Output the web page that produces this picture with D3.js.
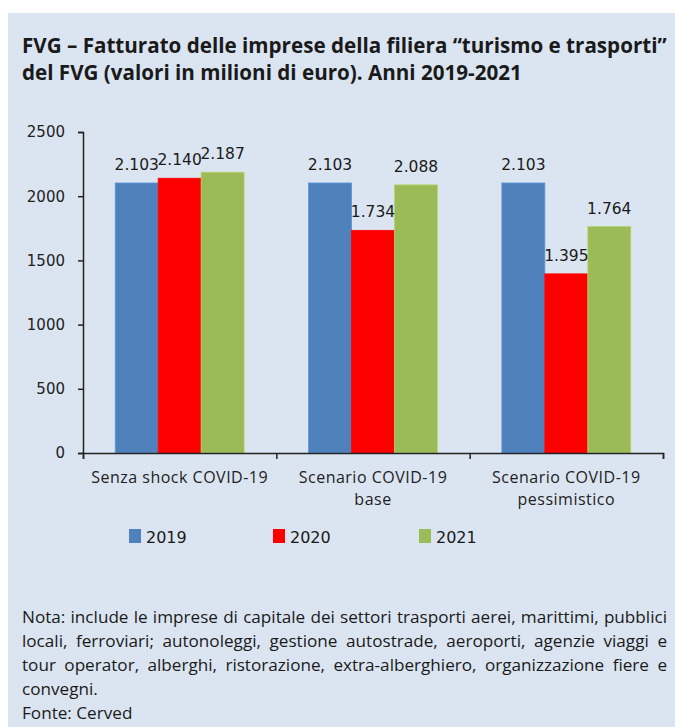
<!DOCTYPE html>
<html>
<head>
<meta charset="utf-8">
<script src="https://cdn.jsdelivr.net/npm/d3@7"></script>
<style>
body { margin: 0; background: #fff; }
</style>
</head>
<body>
<div class="container"></div>
<script>
var categories = ["Senza shock COVID-19", "Scenario COVID-19\nbase", "Scenario COVID-19\npessimistico"];
var years = ["2019", "2020", "2021"];
var values2019 = [2103, 2103, 2103];
var values2020 = [2140, 1734, 1395];
var values2021 = [2187, 2088, 1764];
var yTicks = [0, 500, 1000, 1500, 2000, 2500];
var colors = ["#4f81bd", "#ff0000", "#9bbb59"];
var titleLines = ["FVG \u2013 Fatturato delle imprese della filiera \u201cturismo e trasporti\u201d",
                  "del FVG (valori in milioni di euro). Anni 2019-2021"];
var noteLines = ["Nota: include le imprese di capitale dei settori trasporti aerei, marittimi, pubblici",
                 "locali, ferroviari; autonoleggi, gestione autostrade, aeroporti, agenzie viaggi e",
                 "tour operator, alberghi, ristorazione, extra-alberghiero, organizzazione fiere e",
                 "convegni.",
                 "Fonte: Cerved"];

var WIDTH = 675, HEIGHT = 727;
var series = [values2019, values2020, values2021];
var LEFT = 22, RIGHT = 667;

var appendGroupAndTranslateBy = function(x, y, svg) {
	return svg.append('g').attr('transform', 'translate(' + x + ',' + y + ')');
}

var itFormat = d3.formatLocale({decimal: ",", thousands: ".", grouping: [3], currency: ["", "\u20ac"]}).format(",d");

var svg = d3.select('.container').append('svg')
	.attr('width', WIDTH)
	.attr('height', HEIGHT);

svg.append('rect')
	.attr('x', 8).attr('y', 13)
	.attr('width', WIDTH - 8).attr('height', HEIGHT - 13)
	.attr('fill', '#dbe5f1');

// title, sized so the first line spans the box like the source
var titleG = svg.append('g')
	.style('font-family', '"Open Sans", sans-serif')
	.style('font-weight', 'bold')
	.style('font-size', '19px')
	.attr('fill', '#1a1a1a');
var titleText = titleG.selectAll('text').data(titleLines)
	.enter().append('text')
	.attr('x', LEFT)
	.attr('y', function(d, i) { return 53 + i * 27; })
	.text(function(d) { return d; });
var tw = titleText.nodes()[0].getComputedTextLength();
titleG.style('font-size', (19 * (RIGHT - LEFT) / tw) + 'px');

var x0 = d3.scaleBand()
	.domain(categories)
	.range([83, 663])
	.paddingInner(0)
	.paddingOuter(0);

var x1 = d3.scaleBand()
	.domain(years)
	.range([0, x0.bandwidth()])
	.paddingOuter(0.75);

var xEdges = d3.scaleLinear()
	.domain([0, categories.length])
	.range([83, 663]);

var yScale = d3.scaleLinear()
	.domain([0, 2500])
	.range([453, 132]);

var yAxis = d3.axisLeft(yScale).tickValues(yTicks).tickSize(5).tickPadding(13).tickFormat(d3.format('d'));
var xAxis = d3.axisBottom(xEdges).tickValues(d3.range(categories.length + 1)).tickSize(6).tickFormat('');

var yG = appendGroupAndTranslateBy(83, 0, svg).call(yAxis);
yG.selectAll('text')
	.style('font-family', '"DejaVu Sans", sans-serif')
	.style('font-size', '15px')
	.attr('fill', '#222');

// bars
var groups = svg.append('g').selectAll('g').data(categories)
	.enter().append('g')
	.attr('transform', function(d) { return 'translate(' + x0(d) + ',0)'; });

groups.selectAll('rect')
	.data(function(d, ci) { return years.map(function(y, si) { return {year: y, si: si, v: series[si][ci]}; }); })
	.enter().append('rect')
	.attr('x', function(d) { return x1(d.year); })
	.attr('y', function(d) { return yScale(d.v); })
	.attr('width', x1.bandwidth())
	.attr('height', function(d) { return yScale(0) - yScale(d.v); })
	.attr('fill', function(d) { return colors[d.si]; })
	.attr('stroke', function(d) { return d3.color(colors[d.si]).brighter(0.4); })
	.attr('stroke-width', 0.8);

groups.selectAll('text.val')
	.data(function(d, ci) { return years.map(function(y, si) { return {year: y, v: series[si][ci]}; }); })
	.enter().append('text')
	.attr('class', 'val')
	.attr('x', function(d) { return x1(d.year) + x1.bandwidth() / 2; })
	.attr('y', function(d) { return yScale(d.v) - 13; })
	.attr('text-anchor', 'middle')
	.style('font-family', '"DejaVu Sans", sans-serif')
	.style('font-size', '15.5px')
	.attr('fill', '#1a1a1a')
	.text(function(d) { return itFormat(d.v); });

var xG = appendGroupAndTranslateBy(0, 453, svg).call(xAxis);
[xG, yG].forEach(function(g) {
	g.selectAll('path, line').attr('stroke', '#222').attr('stroke-width', 1.5);
});

// category labels
var catLabels = svg.append('g').selectAll('text').data(categories)
	.enter().append('text')
	.attr('x', function(d) { return x0(d) + x0.bandwidth() / 2; })
	.attr('y', 483)
	.attr('text-anchor', 'middle')
	.style('font-family', '"Open Sans", sans-serif')
	.style('font-size', '16px')
	.style('letter-spacing', '0.5px')
	.attr('fill', '#222');

catLabels.selectAll('tspan')
	.data(function(d) { return d.split('\n'); })
	.enter().append('tspan')
	.attr('x', function() { return d3.select(this.parentNode).attr('x'); })
	.attr('dy', function(d, i) { return i === 0 ? 0 : 22; })
	.text(function(d) { return d; });

// legend
var legendX = [129, 273, 419];
var legend = svg.append('g').selectAll('g').data(years)
	.enter().append('g')
	.attr('transform', function(d, i) { return 'translate(' + legendX[i] + ',529)'; });

legend.append('rect')
	.attr('width', 12).attr('height', 14)
	.attr('fill', function(d, i) { return colors[i]; });

legend.append('text')
	.attr('x', 17).attr('y', 14)
	.style('font-family', '"DejaVu Sans", sans-serif')
	.style('font-size', '16px')
	.attr('fill', '#1a1a1a')
	.text(function(d) { return d; });

// note, justified like the source
var noteG = svg.append('g')
	.style('font-family', '"Open Sans", sans-serif')
	.style('font-size', '16px')
	.attr('fill', '#1a1a1a');

var probe = noteG.append('text').text(noteLines[0]);
var noteSize = 16 * (RIGHT - LEFT - 8) / probe.node().getComputedTextLength();
probe.remove();
noteG.style('font-size', noteSize + 'px');

noteLines.forEach(function(line, li) {
	var y = 623 + li * 24;
	var words = line.split(' ');
	if (li >= 3) {
		noteG.append('text').attr('x', LEFT).attr('y', y).text(line);
		return;
	}
	var nodes = words.map(function(w) {
		return noteG.append('text').attr('y', y).text(w);
	});
	var widths = nodes.map(function(n) { return n.node().getComputedTextLength(); });
	var gap = (RIGHT - LEFT - d3.sum(widths)) / (words.length - 1);
	var cx = LEFT;
	nodes.forEach(function(n, i) {
		n.attr('x', cx);
		cx += widths[i] + gap;
	});
});
</script>
</body>
</html>
